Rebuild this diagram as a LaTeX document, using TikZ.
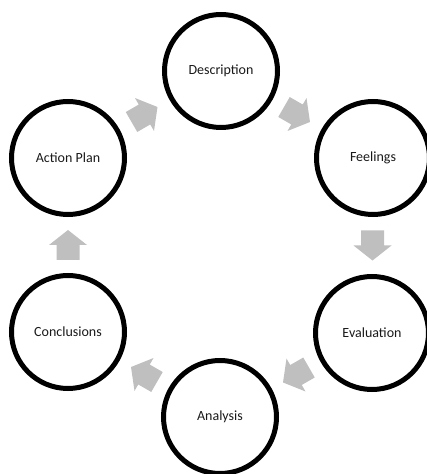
\documentclass[tikz,border=0pt]{standalone}
\usepackage{fontspec}
\setmainfont{Carlito}
\usetikzlibrary{calc}
\definecolor{arrowgray}{RGB}{191,191,191}
\tikzset{
  stage/.style={circle, draw=black, line width=5pt, minimum size=113pt, inner sep=0pt,
    font=\fontsize{14}{16}\selectfont, text=black!90},
  blockarrow/.pic={\fill[arrowgray] (-15,-11.5) -- (0,-11.5) -- (0,-19) -- (15,0) -- (0,19) -- (0,11.5) -- (-15,11.5) -- cycle;}
}
\begin{document}
\begin{tikzpicture}[x=1pt,y=1pt]
\useasboundingbox (0,0) rectangle (427,474);
\clip (0,0) rectangle (427,474);
\node[stage] (desc) at (221,403) {Description};
\node[stage] (feel) at (373,316) {Feelings};
\node[stage] (eval) at (372,141) {Evaluation};
\node[stage] (anal) at (220,57) {Analysis};
\node[stage] (conc) at (68,142) {Conclusions};
\node[stage] (act)  at (68,316) {Action Plan};
\pic[rotate=-30]  at ($(desc)!0.5!(feel)$) {blockarrow};
\pic[rotate=-90]  at ($(feel)!0.5!(eval)$) {blockarrow};
\pic[rotate=-150] at ($(eval)!0.5!(anal)$) {blockarrow};
\pic[rotate=150]  at ($(anal)!0.5!(conc)$) {blockarrow};
\pic[rotate=90]   at ($(conc)!0.5!(act)$) {blockarrow};
\pic[rotate=30]   at ($(act)!0.5!(desc)$) {blockarrow};
\end{tikzpicture}
\end{document}
